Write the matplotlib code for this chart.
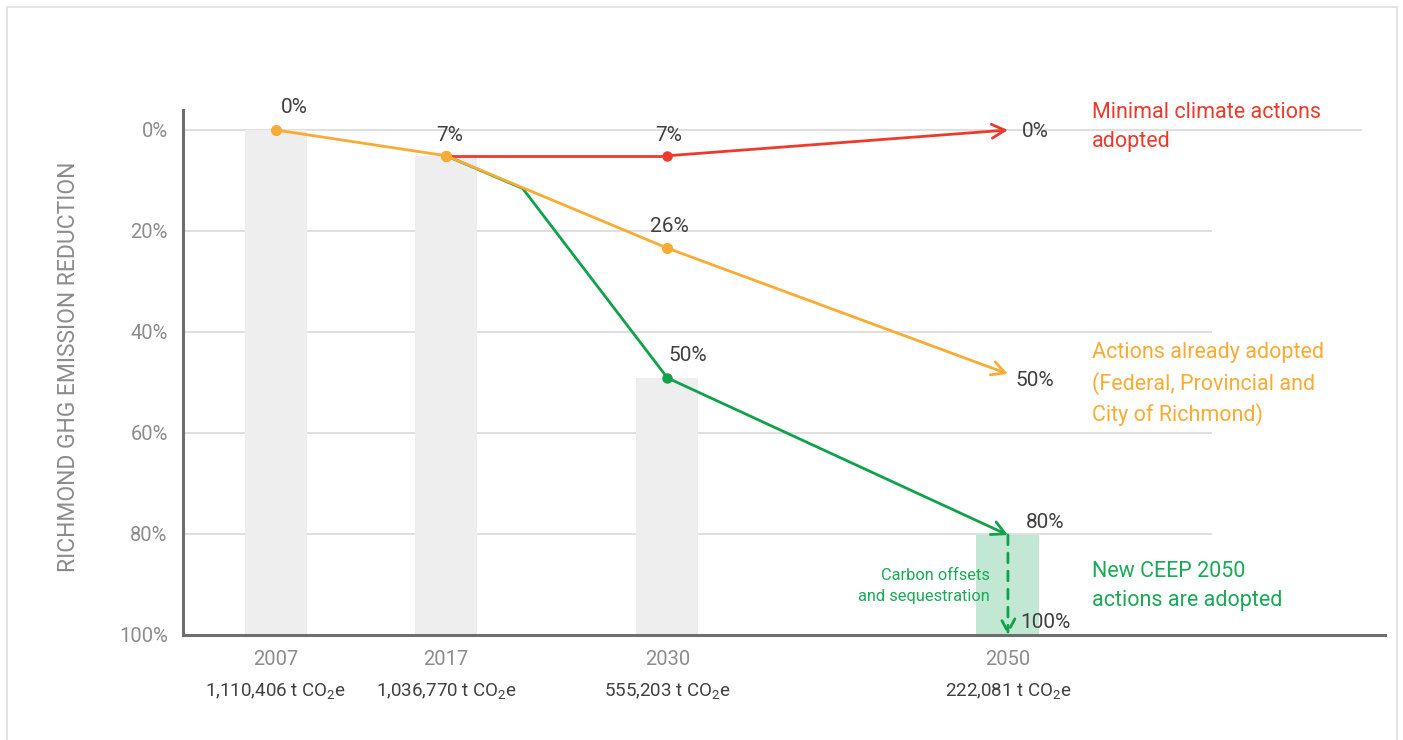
import matplotlib
matplotlib.use("Agg")
import matplotlib.pyplot as plt
from matplotlib.patches import Rectangle

FONT = ['Roboto', 'DejaVu Sans']
plt.rcParams['font.family'] = FONT
plt.rcParams['mathtext.fontset'] = 'custom'
plt.rcParams['mathtext.rm'] = 'Roboto'
plt.rcParams['mathtext.it'] = 'Roboto'

# ---------------- data ----------------
years = [2007, 2017, 2030, 2050]
year_labels = ['2007', '2017', '2030', '2050']
emission_labels = ['1,110,406 t CO$_2$e', '1,036,770 t CO$_2$e',
                   '555,203 t CO$_2$e', '222,081 t CO$_2$e']
bar_years = [2007, 2017, 2030]
bar_tops = [0, 5.1, 49.1]
green_bar_year = 2050
green_bar_top = 80.2

orange_x = [2007, 2017, 2030, 2050]
orange_y = [0, 5.1, 23.4, 48.3]
red_x = [2017, 2030, 2050]
red_y = [5.1, 5.1, 0]
green_x = [2017, 2021.5, 2030, 2050]
green_y = [5.1, 11.6, 49.1, 80.2]
offset_y = [80.2, 100]

yticks = [0, 20, 40, 60, 80, 100]
ytick_labels = ['0%', '20%', '40%', '60%', '80%', '100%']

# labels: (text, x, y)
value_labels = [('0%', 2008.1, -4.5), ('7%', 2017.2, 1.0), ('7%', 2030.1, 1.0),
                ('26%', 2030.1, 19.2), ('50%', 2031.2, 44.7), ('0%', 2051.6, 0.2),
                ('50%', 2051.6, 49.7), ('80%', 2052.2, 77.8), ('100%', 2052.2, 97.6)]

ORANGE = '#f9ab33'
RED = '#ee3a2c'
GREEN = '#0fa24a'
GREEN_TXT = '#19aa55'
GRAY_BAR = '#eeeeee'
GREEN_BAR = '#c2e8d3'
GRID = '#d9d9d9'
TICK = '#8c8c8c'
DARK = '#404040'
SPINE = '#6e6e6e'

fig = plt.figure(figsize=(14.03, 7.40), dpi=100)
W, H = 1403, 740
ax = fig.add_axes([183 / W, 1 - 635 / H, (1385 - 183) / W, (635 - 110) / H])
ax.set_xlim(2001.54, 2072.15)
ax.set_ylim(100, -3.96)

# border
fig.patches.append(Rectangle((7 / W, -0.02), (1397 - 7) / W, 1 - 7 / H + 0.02,
                             transform=fig.transFigure, fill=False,
                             edgecolor='#dedede', lw=1.2))

# gridlines
ax.hlines(0, 2001.54, 2070.8, color=GRID, lw=1.2, zorder=0)
ax.hlines([20, 40, 60, 80], 2001.54, 2062.0, color=GRID, lw=1.2, zorder=0)

# bars
ax.bar(bar_years, [100 - t for t in bar_tops], bottom=bar_tops, width=3.64,
       color=GRAY_BAR, zorder=1)
ax.bar([green_bar_year], [100 - green_bar_top], bottom=[green_bar_top], width=3.7,
       color=GREEN_BAR, zorder=1)

lw = 2.0
head = '->,head_length=0.95,head_width=0.5'

# green
ax.plot(green_x[:-1], green_y[:-1], color=GREEN, lw=lw, zorder=3)
ax.annotate('', xy=(green_x[-1], green_y[-1]), xytext=(green_x[-2], green_y[-2]),
            arrowprops=dict(arrowstyle=head, color=GREEN, lw=lw, shrinkA=0, shrinkB=0),
            zorder=3)
ax.plot([green_x[2]], [green_y[2]], 'o', color=GREEN, ms=6.5, zorder=5)
# offsets dashed arrow
ax.annotate('', xy=(green_bar_year, offset_y[1]), xytext=(green_bar_year, offset_y[0]),
            arrowprops=dict(arrowstyle=head, color=GREEN, lw=lw, ls=(0, (3.5, 3.0)),
                            shrinkA=0, shrinkB=0), zorder=3)

# orange
ax.plot(orange_x[:-1], orange_y[:-1], color=ORANGE, lw=lw, zorder=4)
ax.annotate('', xy=(orange_x[-1], orange_y[-1]), xytext=(orange_x[-2], orange_y[-2]),
            arrowprops=dict(arrowstyle=head, color=ORANGE, lw=lw, shrinkA=0, shrinkB=0),
            zorder=4)
ax.plot(orange_x[:-1], orange_y[:-1], 'o', color=ORANGE, ms=7, zorder=6)

# red
ax.plot(red_x[:-1], red_y[:-1], color=RED, lw=lw, zorder=3.5)
ax.annotate('', xy=(red_x[-1], red_y[-1]), xytext=(red_x[-2], red_y[-2]),
            arrowprops=dict(arrowstyle=head, color=RED, lw=lw, shrinkA=0, shrinkB=0),
            zorder=3.5)
ax.plot([red_x[1]], [red_y[1]], 'o', color=RED, ms=6.5, zorder=5)
ax.plot([orange_x[1]], [orange_y[1]], 'o', color=ORANGE, ms=7, zorder=7)

for t, x, y in value_labels:
    ax.text(x, y, t, ha='center', va='center', color=DARK, fontsize=15)

ax.text(2050 - 1.05, 90.3, 'Carbon offsets\nand sequestration', ha='right', va='center',
        color=GREEN_TXT, fontsize=11.8, linespacing=1.45)

ax.text(2054.95, -0.5, 'Minimal climate actions\nadopted', ha='left', va='center',
        color=RED, fontsize=15.5, linespacing=1.5)
ax.text(2054.95, 50.3, 'Actions already adopted\n(Federal, Provincial and\nCity of Richmond)',
        ha='left', va='center', color=ORANGE, fontsize=15.5, linespacing=1.5)
ax.text(2054.95, 90.3, 'New CEEP 2050\nactions are adopted', ha='left', va='center',
        color=GREEN_TXT, fontsize=15.5, linespacing=1.5)

# axes styling
for s in ['top', 'right']:
    ax.spines[s].set_visible(False)
for s in ['left', 'bottom']:
    ax.spines[s].set_color(SPINE)
    ax.spines[s].set_linewidth(2.2)

ax.set_yticks(yticks)
ax.set_yticklabels(ytick_labels)
ax.set_xticks(years)
ax.set_xticklabels(year_labels)
ax.tick_params(axis='both', length=0, colors=TICK, labelsize=14.5)
ax.tick_params(axis='y', pad=11)
ax.tick_params(axis='x', pad=11)

for x, lab in zip(years, emission_labels):
    ax.annotate(lab, xy=(x, 0), xycoords=('data', 'axes fraction'),
                xytext=(0, -40), textcoords='offset points', ha='center', va='center',
                color=DARK, fontsize=13.5)

ax.set_ylabel('RICHMOND GHG EMISSION REDUCTION', color=TICK, fontsize=16.5)
ax.yaxis.set_label_coords((80 - 183) / (1385 - 183), 1 - (367 - 110) / (635 - 110))

fig.savefig('out.png', dpi=100)
